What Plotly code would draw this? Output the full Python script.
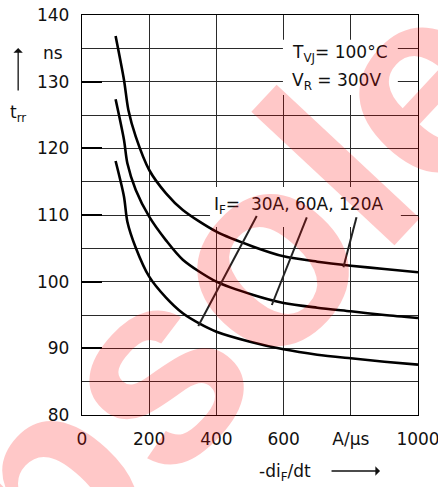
import plotly.graph_objects as go

# ---- data ----
x_30A = [100, 125, 135, 160, 200, 250, 300, 350, 400, 500, 600, 700, 800, 900, 1000]
y_30A = [118.1, 112.75, 109.0, 105.1, 100.75, 97.6, 95.25, 93.7, 92.5, 91.0, 89.85, 89.05, 88.5, 88.0, 87.55]

x_60A = [100, 125, 135, 160, 200, 250, 300, 400, 510, 600, 700, 800, 900, 1000]
y_60A = [127.35, 121.25, 117.75, 113.75, 109.75, 106.2, 103.3, 100.0, 98.0, 96.8, 96.1, 95.55, 95.0, 94.55]

x_120A = [100, 125, 138, 160, 200, 250, 300, 400, 510, 600, 700, 800, 900, 1000]
y_120A = [136.85, 130.25, 125.75, 121.75, 116.75, 113.25, 110.75, 107.5, 105.25, 103.8, 103.0, 102.4, 101.9, 101.4]

# leader lines from the I_F label to each curve
leader_x = [520, 346, None, 669, 565, None, 817, 778]
leader_y = [109.85, 93.35, None, 109.65, 96.5, None, 109.65, 102.15]

x_tickvals = [0, 200, 400, 600, 800, 1000]
x_ticktext = ["0", "200", "400", "600", "A/\u03bcs", "1000"]
y_tickvals = [80, 90, 100, 110, 120, 130, 140]
y_ticktext = ["80", "90", "100", "110", "120", "130", "140"]

FONT = "DejaVu Sans"
FS = 17
INK = "#111111"
GRID = "#2a2a2a"

fig = go.Figure()
for xs, ys in [(x_30A, y_30A), (x_60A, y_60A), (x_120A, y_120A)]:
    fig.add_trace(go.Scatter(x=xs, y=ys, mode="lines",
                             line=dict(color="black", width=2.6, shape="spline", smoothing=0.8),
                             hoverinfo="skip", showlegend=False))
fig.add_trace(go.Scatter(x=leader_x, y=leader_y, mode="lines",
                         line=dict(color="#222222", width=2),
                         hoverinfo="skip", showlegend=False, connectgaps=False))

fig.update_layout(
    width=438, height=487,
    margin=dict(l=82, r=20, t=15, b=72, autoexpand=False),
    paper_bgcolor="white", plot_bgcolor="white",
    font=dict(family=FONT, size=FS, color=INK),
    showlegend=False,
)
fig.update_xaxes(range=[0, 1000], tickvals=x_tickvals, ticktext=x_ticktext,
                 showgrid=True, gridcolor=GRID, gridwidth=1,
                 showline=True, linecolor="black", linewidth=1.3, mirror=True,
                 ticks="", zeroline=False, ticklabelstandoff=8,
                 ticklabeloverflow="allow",
                 tickfont=dict(family=FONT, size=FS, color=INK))
fig.update_yaxes(range=[80, 140], tickvals=y_tickvals, ticktext=y_ticktext,
                 showgrid=True, gridcolor=GRID, gridwidth=1,
                 minor=dict(dtick=5, tick0=80, showgrid=True, gridcolor=GRID, gridwidth=1, ticks=""),
                 showline=True, linecolor="black", linewidth=1.3, mirror=True,
                 ticks="inside", ticklen=20, tickwidth=1.8, tickcolor="black",
                 zeroline=False, ticklabelstandoff=8, ticklabeloverflow="allow",
                 tickfont=dict(family=FONT, size=FS, color=INK))

# white boxes behind the labels (above gridlines, below curves)
fig.add_shape(type="rect", xref="x", yref="y", x0=598, x1=940, y0=128.0, y1=136.3,
              fillcolor="white", line=dict(width=0), layer="between")
fig.add_shape(type="rect", xref="x", yref="y", x0=381, x1=949, y0=108.2, y1=114.2,
              fillcolor="white", line=dict(width=0), layer="between")

ann = []
ann.append(dict(xref="x", yref="y", x=619, y=134.2, xanchor="left", yanchor="middle",
                text="T<sub>VJ</sub>= 100°C", showarrow=False))
ann.append(dict(xref="x", yref="y", x=619, y=130.1, xanchor="left", yanchor="middle",
                text="V<sub>R</sub> = 300V", showarrow=False))
ann.append(dict(xref="x", yref="y", x=388, y=111.5, xanchor="left", yanchor="middle",
                text="I<sub>F</sub>=&nbsp; 30A, 60A, 120A", showarrow=False))
# y-axis unit and title
ann.append(dict(xref="paper", yref="paper", x=-0.0863, y=0.905, xanchor="center", yanchor="middle",
                text="ns", showarrow=False))
ann.append(dict(xref="paper", yref="paper", x=-0.19, y=0.755, xanchor="center", yanchor="middle",
                text="t<sub>rr</sub>", showarrow=False))
ann.append(dict(xref="paper", yref="paper", x=-0.19, y=0.9175, ax=0, ay=44,
                text="", showarrow=True, arrowhead=1, arrowsize=1.2, arrowwidth=1.3, arrowcolor=INK))
# x-axis title and arrow
ann.append(dict(xref="paper", yref="paper", x=0.604, y=-0.1425, xanchor="center", yanchor="middle",
                text="-di<sub>F</sub>/dt", showarrow=False))
ann.append(dict(xref="paper", yref="paper", x=0.887, y=-0.14, ax=-50, ay=0,
                text="", showarrow=True, arrowhead=1, arrowsize=1.2, arrowwidth=1.3, arrowcolor=INK))
# watermark
ann.append(dict(xref="paper", yref="paper", x=0.46, y=0.3435, xanchor="center", yanchor="middle",
                text="<b>Obsolete</b>", showarrow=False, textangle=-47,
                font=dict(family="Liberation Sans", size=270, color="rgb(255,0,0)"), opacity=0.21))
fig.update_layout(annotations=ann)

fig.write_html("out.html", config={"displayModeBar": False},
               post_script="document.body.style.margin='0';document.body.style.overflow='hidden';")
